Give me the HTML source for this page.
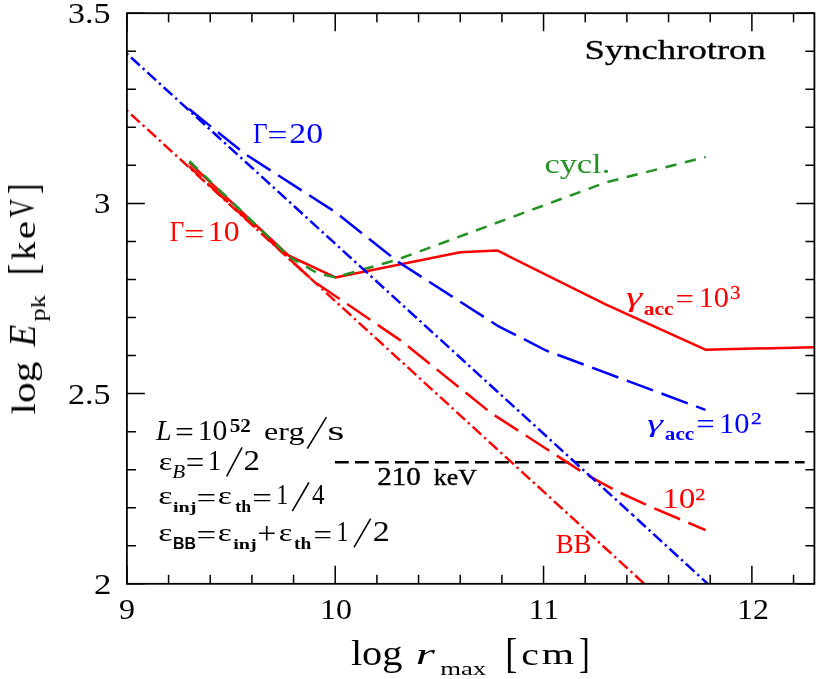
<!DOCTYPE html>
<html><head><meta charset="utf-8"><title>Synchrotron</title>
<style>html,body{margin:0;padding:0;background:#fff;}svg{display:block;font-family:"Liberation Serif",serif;}.s{font-family:"Liberation Sans",sans-serif;}.sb{font-family:"Liberation Sans",sans-serif;font-weight:bold;}.i{font-style:italic;}.b{font-weight:bold;}</style></head><body>
<svg width="830" height="679" viewBox="0 0 830 679">
<rect width="830" height="679" fill="#fff"/>
<defs><clipPath id="c"><rect x="126.9" y="13.2" width="687.5" height="570.6"/></clipPath></defs>
<path d="M126.90 583.8 v-18 M126.90 13.2 v18 M168.57 583.8 v-9 M168.57 13.2 v9 M210.23 583.8 v-9 M210.23 13.2 v9 M251.90 583.8 v-9 M251.90 13.2 v9 M293.56 583.8 v-9 M293.56 13.2 v9 M335.23 583.8 v-18 M335.23 13.2 v18 M376.90 583.8 v-9 M376.90 13.2 v9 M418.56 583.8 v-9 M418.56 13.2 v9 M460.23 583.8 v-9 M460.23 13.2 v9 M501.89 583.8 v-9 M501.89 13.2 v9 M543.56 583.8 v-18 M543.56 13.2 v18 M585.23 583.8 v-9 M585.23 13.2 v9 M626.89 583.8 v-9 M626.89 13.2 v9 M668.56 583.8 v-9 M668.56 13.2 v9 M710.22 583.8 v-9 M710.22 13.2 v9 M751.89 583.8 v-18 M751.89 13.2 v18 M793.56 583.8 v-9 M793.56 13.2 v9 M126.9 583.80 h18 M814.4 583.80 h-18 M126.9 545.76 h9 M814.4 545.76 h-9 M126.9 507.72 h9 M814.4 507.72 h-9 M126.9 469.68 h9 M814.4 469.68 h-9 M126.9 431.64 h9 M814.4 431.64 h-9 M126.9 393.60 h18 M814.4 393.60 h-18 M126.9 355.56 h9 M814.4 355.56 h-9 M126.9 317.52 h9 M814.4 317.52 h-9 M126.9 279.48 h9 M814.4 279.48 h-9 M126.9 241.44 h9 M814.4 241.44 h-9 M126.9 203.40 h18 M814.4 203.40 h-18 M126.9 165.36 h9 M814.4 165.36 h-9 M126.9 127.32 h9 M814.4 127.32 h-9 M126.9 89.28 h9 M814.4 89.28 h-9 M126.9 51.24 h9 M814.4 51.24 h-9 M126.9 13.20 h18 M814.4 13.20 h-18" stroke="#000" stroke-width="1.5" fill="none"/>
<g clip-path="url(#c)">
<path d="M334.9 462.2 L804.6 462.2" stroke="#000" stroke-width="2.6" fill="none" stroke-linejoin="round" stroke-linecap="butt" stroke-dasharray="13.9 6.1" stroke-dashoffset="0"/>
<path d="M126.9 110.5 L644.0 583.5" stroke="#ff0000" stroke-width="2.5" fill="none" stroke-linejoin="round" stroke-linecap="butt" stroke-dasharray="2.4 3.9 11.84 3.9" stroke-dashoffset="0.66"/>
<path d="M189.3 166.5 L314.0 281.5 L401.7 341.2 L491.0 413.0 L580.0 470.6 L600.0 482.2 L620.6 493.0 L650.0 506.5 L705.6 530.1" stroke="#ff0000" stroke-width="2.5" fill="none" stroke-linejoin="round" stroke-linecap="butt" stroke-dasharray="28 9" stroke-dashoffset="12.3"/>
<path d="M189.3 162.6 L288.4 255.5 L335.3 277.4 L460.4 252.2 L497.2 250.4 L606.1 304.6 L705.4 349.7 L814.4 347.2" stroke="#ff0000" stroke-width="2.5" fill="none" stroke-linejoin="round" stroke-linecap="butt"/>
<path d="M189.3 161.2 L289.4 257.0" stroke="#229322" stroke-width="2.5" fill="none" stroke-linejoin="round" stroke-linecap="butt" stroke-dasharray="11.3 8.7" stroke-dashoffset="0"/>
<path d="M289.4 257.0 L318.0 273.5 L335.3 277.4 L397.7 259.5 L606.1 182.3 L705.7 157.0" stroke="#229322" stroke-width="2.5" fill="none" stroke-linejoin="round" stroke-linecap="butt" stroke-dasharray="11.3 8.7" stroke-dashoffset="0.8"/>
<path d="M126.9 53.7 L632.4 514.7" stroke="#0000ff" stroke-width="2.5" fill="none" stroke-linejoin="round" stroke-linecap="butt" stroke-dasharray="2.4 3.9 11.84 3.9" stroke-dashoffset="0.66"/>
<path d="M632.4 514.7 L707.4 583.5" stroke="#0000ff" stroke-width="2.5" fill="none" stroke-linejoin="round" stroke-linecap="butt" stroke-dasharray="2.4 3.9 11.84 3.9" stroke-dashoffset="0"/>
<path d="M189.1 109.1 L245.0 153.9 L335.2 212.0 L397.7 261.5 L497.7 325.8 L546.0 350.5 L705.4 409.9" stroke="#0000ff" stroke-width="2.5" fill="none" stroke-linejoin="round" stroke-linecap="butt" stroke-dasharray="28 9" stroke-dashoffset="0"/>
</g>
<rect x="126.9" y="13.2" width="687.5" height="570.5999999999999" fill="none" stroke="#000" stroke-width="1.8"/>
<g style="will-change:opacity" opacity="0.999">
<text transform="translate(67.90 23.10) scale(1.123 1)" font-size="30.31" fill="#000000">3.5</text>
<text transform="translate(94.06 213.30) scale(1.079 1)" font-size="30.31" fill="#000000">3</text>
<text transform="translate(67.90 403.70) scale(1.123 1)" font-size="30.31" fill="#000000">2.5</text>
<text transform="translate(93.96 593.65) scale(1.147 1)" font-size="30.31" fill="#000000">2</text>
<text transform="translate(119.00 618.70) scale(1.056 1)" font-size="30.31" fill="#000000">9</text>
<text transform="translate(320.01 618.70) scale(1.047 1)" font-size="30.46" fill="#000000">10</text>
<text transform="translate(528.64 618.70) scale(1.035 1)" font-size="30.46" fill="#000000">11</text>
<text transform="translate(737.11 618.70) scale(1.047 1)" font-size="30.46" fill="#000000">12</text>
<text transform="translate(350.89 664.99) scale(1.150 1)" font-size="35.14" fill="#000000">log</text>
<text transform="translate(415.74 664.40) scale(1.638 1)" font-size="30.00" fill="#000000" class="i">r</text>
<text transform="translate(440.13 674.70) scale(1.393 1)" font-size="19.20" fill="#000000">max</text>
<text transform="translate(505.27 666.81) scale(0.878 1)" font-size="41.53" fill="#000000">[</text>
<text transform="translate(521.21 665.00) scale(1.219 1)" font-size="32.60" fill="#000000">c</text>
<text transform="translate(541.66 664.40) scale(1.368 1)" font-size="30.40" fill="#000000">m</text>
<text transform="translate(579.00 666.81) scale(0.771 1)" font-size="41.53" fill="#000000">]</text>
<text transform="translate(584.57 58.67) scale(1.346 1)" font-size="27.24" fill="#000000" stroke="#000000" stroke-width="0.3">Synchrotron</text>
<text transform="translate(252.97 142.50) scale(0.890 1)" font-size="28.46" fill="#0000ff">Γ</text>
<text transform="translate(267.53 143.70) scale(1.263 1)" font-size="28.00" fill="#0000ff">=</text>
<text transform="translate(289.31 142.50) scale(1.189 1)" font-size="28.46" fill="#0000ff">20</text>
<text transform="translate(169.87 241.30) scale(0.883 1)" font-size="28.46" fill="#ff0000">Γ</text>
<text transform="translate(184.32 242.50) scale(1.271 1)" font-size="28.00" fill="#ff0000">=</text>
<text transform="translate(207.82 241.30) scale(1.113 1)" font-size="28.46" fill="#ff0000">10</text>
<text transform="translate(544.44 173.12) scale(1.232 1)" font-size="27.89" fill="#229322">cycl.</text>
<text transform="translate(555.63 553.10) scale(0.980 1)" font-size="27.38" fill="#ff0000">BB</text>
<text transform="translate(662.21 508.00) scale(1.143 1)" font-size="29.08" fill="#ff0000">10</text>
<text transform="translate(695.19 499.90) scale(1.157 1)" font-size="17.69" fill="#ff0000" stroke="#ff0000" stroke-width="0.3">2</text>
<text transform="translate(625.97 306.26) scale(1.536 1)" font-size="26.86" fill="#ff0000" class="i">γ</text>
<text transform="translate(643.76 315.00) scale(1.193 1)" font-size="18.00" fill="#ff0000" class="b">acc</text>
<text transform="translate(675.56 308.30) scale(1.173 1)" font-size="28.00" fill="#ff0000">=</text>
<text transform="translate(698.42 307.10) scale(1.010 1)" font-size="30.15" fill="#ff0000">10</text>
<text transform="translate(730.19 299.00) scale(1.044 1)" font-size="19.38" fill="#ff0000" stroke="#ff0000" stroke-width="0.3">3</text>
<text transform="translate(647.09 431.72) scale(1.549 1)" font-size="26.14" fill="#0000ff" class="i">γ</text>
<text transform="translate(664.87 440.40) scale(1.190 1)" font-size="17.80" fill="#0000ff" class="b">acc</text>
<text transform="translate(696.36 434.29) scale(1.156 1)" font-size="28.40" fill="#0000ff">=</text>
<text transform="translate(719.12 432.60) scale(1.010 1)" font-size="30.15" fill="#0000ff">10</text>
<text transform="translate(750.96 424.00) scale(1.210 1)" font-size="17.69" fill="#0000ff" stroke="#0000ff" stroke-width="0.3">2</text>
<text transform="translate(377.18 485.30) scale(1.134 1)" font-size="25.54" fill="#000000" stroke="#000000" stroke-width="0.4">210</text>
<text transform="translate(433.80 484.92) scale(1.113 1)" font-size="23.17" fill="#000000" stroke="#000000" stroke-width="0.4">keV</text>
<text transform="translate(156.10 440.10) scale(0.950 1)" font-size="29.69" fill="#000000" class="i">L</text>
<text transform="translate(175.03 441.78) scale(1.162 1)" font-size="28.80" fill="#000000">=</text>
<text transform="translate(197.68 440.40) scale(0.984 1)" font-size="30.15" fill="#000000">10</text>
<text transform="translate(229.64 431.70) scale(1.189 1)" font-size="17.85" fill="#000000" class="b">52</text>
<text transform="translate(264.10 440.34) scale(1.253 1)" font-size="25.60" fill="#000000">erg</text>
<text transform="translate(327.28 440.40) scale(1.642 1)" font-size="27.00" fill="#000000">s</text>
<text transform="translate(158.79 469.80) scale(1.260 1)" font-size="25.60" fill="#000000">ε</text>
<text transform="translate(172.20 478.00) scale(1.137 1)" font-size="18.62" fill="#000000" class="i">B</text>
<text transform="translate(185.65 472.83) scale(1.073 1)" font-size="30.80" fill="#000000">=</text>
<text transform="translate(207.78 470.20) scale(0.912 1)" font-size="29.54" fill="#000000">1</text>
<text transform="translate(243.55 470.20) scale(1.117 1)" font-size="29.54" fill="#000000">2</text>
<text transform="translate(158.15 504.20) scale(1.344 1)" font-size="25.20" fill="#000000">ε</text>
<text transform="translate(173.00 512.39) scale(1.373 1)" font-size="14.70" fill="#000000" class="b">inj</text>
<text transform="translate(196.45 506.80) scale(1.248 1)" font-size="28.00" fill="#000000">=</text>
<text transform="translate(217.86 504.20) scale(1.333 1)" font-size="25.20" fill="#000000">ε</text>
<text transform="translate(235.36 511.70) scale(1.120 1)" font-size="15.86" fill="#000000" class="b">th</text>
<text transform="translate(252.15 506.80) scale(1.248 1)" font-size="28.00" fill="#000000">=</text>
<text transform="translate(276.20 504.20) scale(0.834 1)" font-size="28.77" fill="#000000">1</text>
<text transform="translate(312.07 504.20) scale(0.878 1)" font-size="28.77" fill="#000000">4</text>
<text transform="translate(158.15 540.70) scale(1.303 1)" font-size="26.00" fill="#000000">ε</text>
<text transform="translate(172.91 548.80) scale(0.921 1)" font-size="17.29" fill="#000000" class="sb">BB</text>
<text transform="translate(196.45 543.80) scale(1.248 1)" font-size="28.00" fill="#000000">=</text>
<text transform="translate(217.86 540.70) scale(1.292 1)" font-size="26.00" fill="#000000">ε</text>
<text transform="translate(233.20 549.20) scale(1.297 1)" font-size="15.57" fill="#000000" class="b">inj</text>
<text transform="translate(257.32 544.25) scale(1.073 1)" font-size="31.40" fill="#000000">+</text>
<text transform="translate(278.69 540.70) scale(1.241 1)" font-size="26.00" fill="#000000">ε</text>
<text transform="translate(294.11 548.80) scale(1.123 1)" font-size="17.29" fill="#000000" class="b">th</text>
<text transform="translate(313.46 543.80) scale(1.173 1)" font-size="28.00" fill="#000000">=</text>
<text transform="translate(336.50 540.70) scale(0.821 1)" font-size="29.23" fill="#000000">1</text>
<text transform="translate(372.70 540.70) scale(1.163 1)" font-size="29.23" fill="#000000">2</text>
<path d="M226.6 476.3 L242.1 447.3" stroke="#000" stroke-width="1.6" fill="none"/>
<path d="M292.3 511.1 L308.9 482.5" stroke="#000" stroke-width="1.6" fill="none"/>
<path d="M354 547.3 L370.7 518.7" stroke="#000" stroke-width="1.6" fill="none"/>
<path d="M307.3 448.6 L326.4 417.2" stroke="#000" stroke-width="1.6" fill="none"/>
<g transform="translate(0 413.5) rotate(-90)">
<text transform="translate(-1.04 34.66) scale(1.206 1)" font-size="34.38" fill="#000000">log</text>
<text transform="translate(66.90 34.60) scale(0.966 1)" font-size="36.92" fill="#000000" class="i">E</text>
<text transform="translate(92.04 44.78) scale(1.236 1)" font-size="21.41" fill="#000000">pk</text>
<text transform="translate(138.33 36.55) scale(0.799 1)" font-size="42.82" fill="#000000">[</text>
<text transform="translate(153.27 34.60) scale(1.081 1)" font-size="34.29" fill="#000000">k</text>
<text transform="translate(174.13 35.00) scale(1.268 1)" font-size="32.60" fill="#000000">e</text>
<text transform="translate(196.10 34.10) scale(0.714 1)" font-size="36.15" fill="#000000">V</text>
<text transform="translate(219.52 36.55) scale(0.729 1)" font-size="42.82" fill="#000000">]</text>
</g>
</g>
</svg></body></html>
